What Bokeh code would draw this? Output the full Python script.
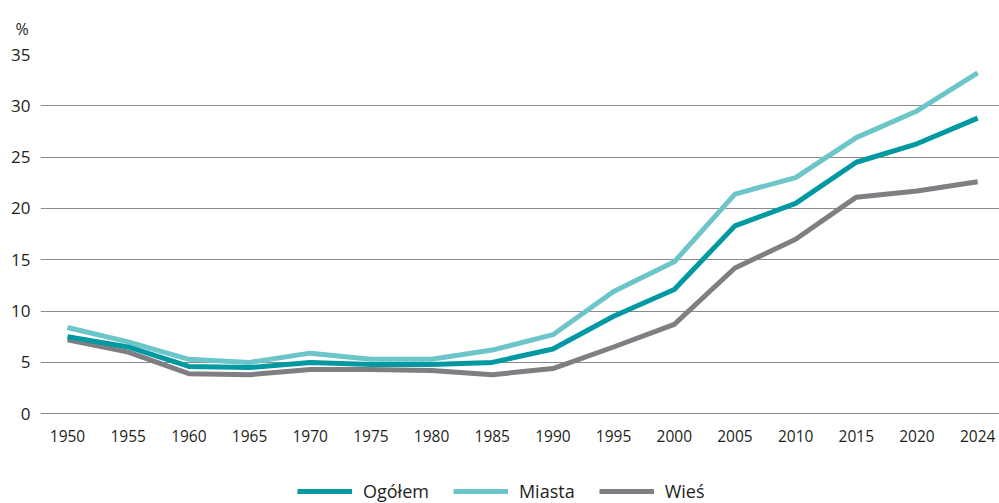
from bokeh.plotting import figure
from bokeh.models import Range1d, FixedTicker, Legend, LegendItem, ColumnDataSource
from bokeh.embed import file_html
from bokeh.resources import INLINE

years = ["1950", "1955", "1960", "1965", "1970", "1975", "1980", "1985",
         "1990", "1995", "2000", "2005", "2010", "2015", "2020", "2024"]
ogolem = [7.5, 6.5, 4.6, 4.5, 5.0, 4.8, 4.8, 5.0, 6.3, 9.5, 12.1, 18.3, 20.5, 24.5, 26.3, 28.8]
miasta = [8.4, 7.0, 5.3, 5.0, 5.9, 5.3, 5.3, 6.2, 7.7, 11.9, 14.8, 21.4, 23.0, 26.9, 29.5, 33.2]
wies = [7.2, 6.0, 3.9, 3.8, 4.3, 4.3, 4.2, 3.8, 4.4, 6.5, 8.7, 14.2, 17.0, 21.1, 21.7, 22.6]
y_ticks = [0, 5, 10, 15, 20, 25, 30, 35]

FONT = "Open Sans"
TXT = "#231f20"

x = list(range(len(years)))
src = ColumnDataSource(dict(x=x, year=years, ogolem=ogolem, miasta=miasta, wies=wies))

p = figure(width=999, height=503, output_backend="svg", toolbar_location=None,
           x_range=Range1d(-0.445, 15.36), y_range=Range1d(-8.75, 35),
           x_axis_location=None,
           min_border_left=40, min_border_right=0, min_border_top=53,
           min_border_bottom=0, title="%")
p.outline_line_color = None
p.background_fill_color = "white"
p.border_fill_color = "white"

p.title.align = "left"
p.title.offset = -25
p.title.standoff = 30
p.title.text_font = FONT
p.title.text_font_size = "16px"
p.title.text_font_style = "normal"
p.title.text_color = TXT

r3 = p.line("x", "wies", source=src, line_color="#7f7f83", line_width=5)
r2 = p.line("x", "miasta", source=src, line_color="#6cc5c9", line_width=5)
r1 = p.line("x", "ogolem", source=src, line_color="#0099a1", line_width=5)

# category labels along the x axis, placed under the zero line
p.text(x="x", y=0, text="year", source=src, y_offset=22,
       text_align="center", text_baseline="middle",
       text_font={"value": FONT}, text_font_size="15.5px", text_color=TXT)

p.xgrid.visible = False
p.ygrid.ticker = FixedTicker(ticks=y_ticks)
p.ygrid.grid_line_color = "#8a8a8a"
p.ygrid.grid_line_width = 1

p.yaxis.ticker = FixedTicker(ticks=y_ticks)
p.yaxis.axis_line_color = None
p.yaxis.major_tick_line_color = None
p.yaxis.minor_tick_line_color = None
p.yaxis.major_tick_out = 0
p.yaxis.major_label_standoff = 10
p.yaxis.major_label_text_font = FONT
p.yaxis.major_label_text_font_size = "17px"
p.yaxis.major_label_text_color = TXT

legend = Legend(items=[LegendItem(label="Ogółem", renderers=[r1]),
                       LegendItem(label="Miasta", renderers=[r2]),
                       LegendItem(label="Wieś", renderers=[r3])],
                orientation="horizontal", location=(257, 0),
                glyph_width=55, glyph_height=20, label_standoff=11,
                spacing=24, padding=0, margin=0,
                label_text_font=FONT, label_text_font_size="18px",
                label_text_color=TXT, border_line_color=None,
                background_fill_alpha=0)
p.add_layout(legend, "center")

open("out.html", "w").write(file_html(p, INLINE))
